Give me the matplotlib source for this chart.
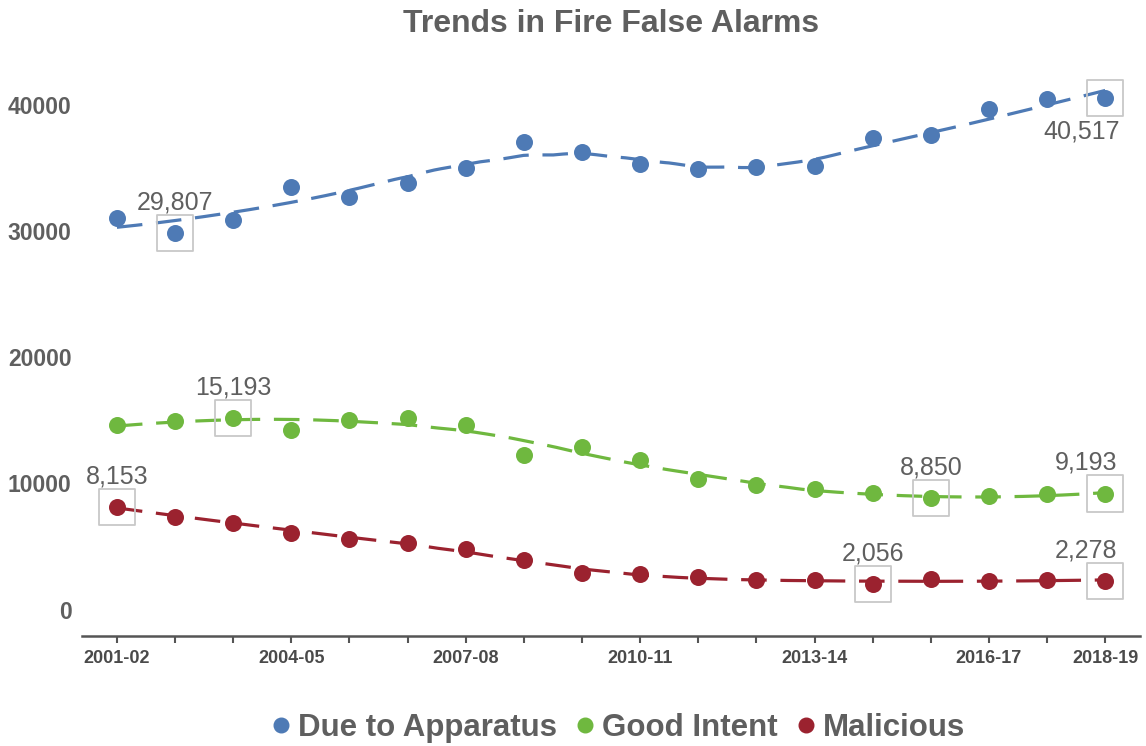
import numpy as np
import matplotlib
matplotlib.use("Agg")
import matplotlib.pyplot as plt
from matplotlib.lines import Line2D

# data
years = ["2001-02", "2002-03", "2003-04", "2004-05", "2005-06", "2006-07",
         "2007-08", "2008-09", "2009-10", "2010-11", "2011-12", "2012-13",
         "2013-14", "2014-15", "2015-16", "2016-17", "2017-18", "2018-19"]
apparatus = [30990, 29807, 30860, 33450, 32650, 33760, 35000, 37060, 36270,
             35270, 34900, 35080, 35130, 37330, 37590, 39620, 40420, 40517]
good_intent = [14590, 14900, 15193, 14250, 14980, 15170, 14590, 12270, 12880,
               11820, 10310, 9890, 9570, 9260, 8850, 8960, 9120, 9193]
malicious = [8153, 7350, 6850, 6100, 5620, 5280, 4830, 3900, 2860,
             2780, 2600, 2330, 2330, 2056, 2420, 2290, 2340, 2278]
shown_labels = [0, 3, 6, 9, 12, 15, 17]

series = [
    ("Due to Apparatus", apparatus, "#4e7ab5", [1, 17]),
    ("Good Intent", good_intent, "#6fb83f", [2, 14, 17]),
    ("Malicious", malicious, "#9b222f", [0, 13, 17]),
]


def loess(x, y, xs, span=0.6, deg=2):
    """local quadratic smoother with tricube weights"""
    x = np.asarray(x, float)
    y = np.asarray(y, float)
    k = int(np.ceil(span * len(x)))
    out = []
    for x0 in xs:
        d = np.abs(x - x0)
        h = np.sort(d)[k - 1] * 1.0001
        w = np.clip(1 - (d / h) ** 3, 0, None) ** 3
        c = np.polyfit(x - x0, y, deg, w=np.sqrt(w))
        out.append(c[-1])
    return np.array(out)


plt.rcParams['font.family'] = ['Liberation Sans', 'DejaVu Sans']
grey = "#5f5f5f"

fig = plt.figure(figsize=(11.46, 7.46), dpi=100)
ax = fig.add_axes([0.0716, 0.1475, 0.9232, 0.7721])

x = np.arange(len(years))
xs = np.linspace(0, len(years) - 1, 300)

for name, vals, col, marked in series:
    ax.scatter(x, vals, s=150, color=col, zorder=3, linewidths=0)
    ax.plot(xs, loess(x, vals, xs), color=col, lw=2.3,
            dashes=(8, 4.3), zorder=4)
    for i in marked:
        ax.scatter([x[i]], [vals[i]], s=680, marker="s", facecolors="none",
                   edgecolors="#c8c8c8", linewidths=1.3, zorder=5)
        dx = -14 if i == len(years) - 1 else 0
        dy = 22
        if name == "Due to Apparatus" and i == len(years) - 1:
            dx, dy = -17, -24
        ax.annotate(f"{vals[i]:,}", (x[i], vals[i]), xytext=(dx, dy),
                    textcoords="offset points", ha="center", va="center",
                    fontsize=18, color=grey, zorder=6)

ax.set_xlim(-0.6, 17.6)
ax.set_ylim(-2090, 43530)
ax.set_xticks(x)
ax.set_xticklabels([years[i] if i in shown_labels else "" for i in x],
                   fontsize=13, fontweight="bold", color="#4a4a4a")
ax.set_yticks([0, 10000, 20000, 30000, 40000])
ax.set_yticklabels(["0", "10000", "20000", "30000", "40000"],
                   fontsize=16.5, fontweight="bold", color=grey)
ax.tick_params(axis="y", length=0, pad=7.5)
ax.tick_params(axis="x", length=5, width=1.5, color="#555555", pad=5)
for s in ["left", "right", "top"]:
    ax.spines[s].set_visible(False)
ax.spines["bottom"].set_color("#555555")
ax.spines["bottom"].set_linewidth(1.8)

fig.text(0.533, 0.968, "Trends in Fire False Alarms", ha="center",
         va="center", fontsize=23, fontweight="bold", color=grey)

handles = [Line2D([], [], marker="o", ls="none", color=c, markersize=10.5)
           for _, _, c, _ in series]
fig.legend(handles, [s[0] for s in series], loc="center",
           bbox_to_anchor=(0.537, 0.024), ncol=3, frameon=False,
           prop={"size": 22.5, "weight": "bold"}, labelcolor=grey,
           handletextpad=0.05, columnspacing=0.4, handlelength=1.0)

fig.savefig("out.png", dpi=100)
